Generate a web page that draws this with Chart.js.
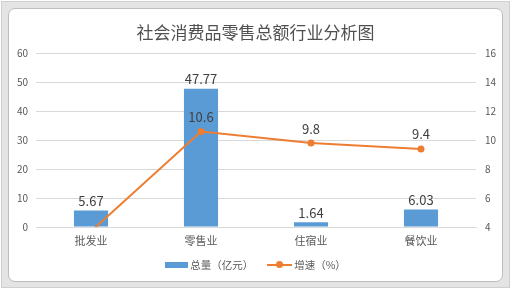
<!DOCTYPE html>
<html>
<head>
<meta charset="utf-8">
<script src="https://cdn.jsdelivr.net/npm/chart.js@4/dist/chart.umd.min.js"></script>
<style>
  html, body { margin: 0; padding: 0; background: #fff; }
  #wrap { position: relative; width: 511px; height: 289px; overflow: hidden; font-family: "Noto Sans CJK SC", sans-serif; }
  #frame { position: absolute; left: 1px; top: 1px; width: 507px; height: 285px; background: #e4e4e4; border: 1px solid #cfcfcf; }
  #inner { position: absolute; left: 6px; top: 6px; right: 6px; bottom: 5px; background: #fff; border: 1px solid #bdbdbd; border-radius: 7px; }
  #chart { position: absolute; left: 0; top: 0; }
  #legend { position: absolute; top: 257px; left: 0; width: 511px; display: flex; justify-content: center; font-size: 10.5px; color: #595959; }
  .item { display: flex; align-items: center; margin: 0 7px; }
  .bar-key { width: 23px; height: 6px; background: #5B9BD5; margin-right: 2px; }
  .line-key { position: relative; width: 25px; height: 2px; background: #ED7D31; margin-right: 2px; }
  .line-key::after { content: ""; position: absolute; left: 9px; top: -3px; width: 7px; height: 7px; border-radius: 50%; background: #ED7D31; }
</style>
</head>
<body>
<div id="wrap">
  <div id="frame"><div id="inner"></div></div>
  <canvas id="chart" width="511" height="289"></canvas>
  <div id="legend">
    <div class="item"><span class="bar-key"></span>总量（亿元）</div>
    <div class="item"><span class="line-key"></span>增速（%）</div>
  </div>
</div>
<script>
// 数据
const categories = ['批发业', '零售业', '住宿业', '餐饮业'];
const totals = [5.67, 47.77, 1.64, 6.03];       // 总量（亿元）
const growth = [3.7, 10.6, 9.8, 9.4];           // 增速（%）
const leftTicks = [0, 10, 20, 30, 40, 50, 60];
const rightTicks = [4, 6, 8, 10, 12, 14, 16];

const tickColor = '#595959';
const gridColor = '#d9d9d9';
const fontFamily = '"Noto Sans CJK SC", "Noto Sans", sans-serif';

// 数值标签
const valueLabels = {
    id: 'valueLabels',
    afterDatasetsDraw(chart) {
        const ctx = chart.ctx;
        ctx.save();
        ctx.font = '13px ' + fontFamily;
        ctx.fillStyle = '#404040';
        ctx.textAlign = 'center';
        ctx.textBaseline = 'bottom';
        chart.data.datasets.forEach((ds, i) => {
            const meta = chart.getDatasetMeta(i);
            const scale = chart.scales[ds.yAxisID];
            meta.data.forEach((el, j) => {
                const v = ds.data[j];
                if (v < scale.min || v > scale.max) return;
                const off = ds.type === 'line' ? 8 : 3;
                ctx.fillText(String(v), el.x, el.y - off);
            });
        });
        ctx.restore();
    }
};

new Chart(document.getElementById('chart'), {
    data: {
        labels: categories,
        datasets: [
            {
                type: 'line',
                label: '增速（%）',
                data: growth,
                yAxisID: 'y1',
                borderColor: '#ED7D31',
                backgroundColor: '#ED7D31',
                borderWidth: 2,
                pointRadius: 3.5,
                pointBackgroundColor: '#ED7D31',
                pointBorderWidth: 0,
                tension: 0,
                order: 0
            },
            {
                type: 'bar',
                label: '总量（亿元）',
                data: totals,
                yAxisID: 'y',
                backgroundColor: '#5B9BD5',
                barPercentage: 0.62,
                categoryPercentage: 0.5,
                order: 1
            }
        ]
    },
    options: {
        responsive: false,
        animation: false,
        layout: { padding: { left: 0, right: 0, top: 0, bottom: 0 } },
        plugins: {
            legend: { display: false },
            tooltip: { enabled: false },
            title: {
                display: true,
                text: '社会消费品零售总额行业分析图',
                color: '#505050',
                font: { family: fontFamily, size: 17, weight: 'normal', lineHeight: 1.2 },
                padding: { top: 22, bottom: 11 }
            }
        },
        scales: {
            x: {
                grid: { display: false, drawTicks: false },
                border: { color: gridColor },
                ticks: { color: tickColor, font: { family: fontFamily, size: 11 }, padding: 7 },
                afterFit: (s) => { s.height = 62; }
            },
            y: {
                position: 'left',
                min: 0, max: 60,
                afterBuildTicks: (s) => { s.ticks = leftTicks.map(v => ({ value: v })); },
                grid: { color: gridColor, drawTicks: false },
                border: { display: false },
                ticks: { color: tickColor, font: { family: fontFamily, size: 10 }, padding: 8 },
                afterFit: (s) => { s.width = 36; }
            },
            y1: {
                position: 'right',
                min: 4, max: 16,
                afterBuildTicks: (s) => { s.ticks = rightTicks.map(v => ({ value: v })); },
                grid: { display: false, drawTicks: false },
                border: { display: false },
                ticks: { color: tickColor, font: { family: fontFamily, size: 10 }, padding: 9 },
                afterFit: (s) => { s.width = 35; }
            }
        }
    },
    plugins: [valueLabels]
});
</script>
</body>
</html>
